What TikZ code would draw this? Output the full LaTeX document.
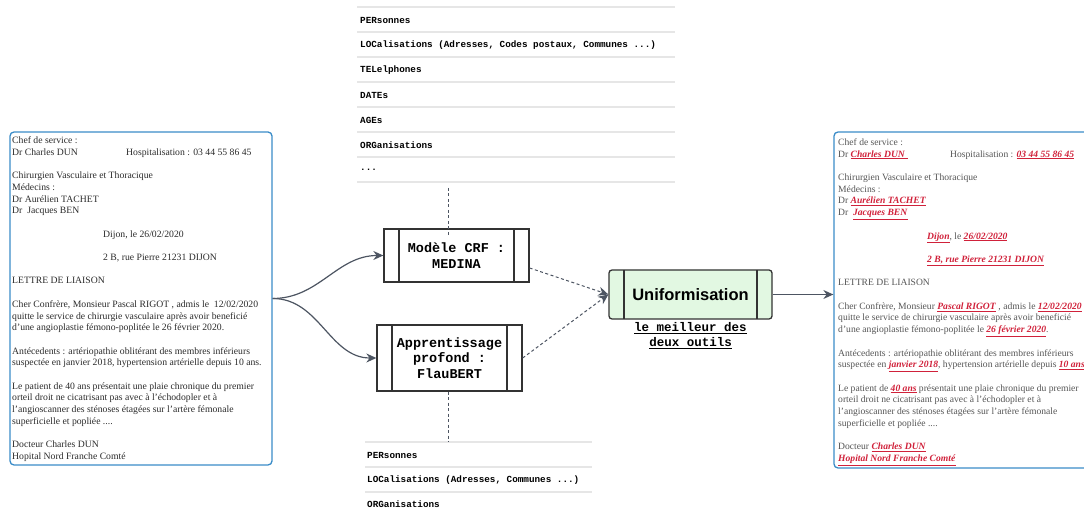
\documentclass[tikz,border=0pt]{standalone}
\usepackage{fontspec}
\setmainfont{Liberation Serif}
\setsansfont{Liberation Sans}
\setmonofont{Liberation Mono}
\usetikzlibrary{arrows.meta,positioning}

\definecolor{bordbleu}{HTML}{3A8CC8}
\definecolor{entrouge}{HTML}{D0213A}
\definecolor{gristrait}{HTML}{4D5562}
\definecolor{bordsombre}{HTML}{333333}
\definecolor{vertclair}{HTML}{E2F8E2}
\definecolor{grissep}{HTML}{E6E6E6}
\definecolor{textelettre}{HTML}{2A2A2A}
\definecolor{texteent}{HTML}{555555}

\newcommand{\ent}[1]{\textcolor{entrouge}{\underline{\textbf{\textit{#1}}}}}

\begin{document}
\begin{tikzpicture}[
		x=1pt, y=-1pt,
		lettre/.style={draw=bordbleu, line width=1.3pt, rounded corners=4pt},
		texte/.style={font=\fontsize{9.7}{11.7}\selectfont, align=left, inner sep=0pt, anchor=north west},
		entite/.style={font=\fontsize{9.3}{11}\selectfont\ttfamily\bfseries, anchor=west, inner sep=0pt},
		separateur/.style={draw=grissep, line width=1.3pt},
		outil/.style={draw=bordsombre, line width=1.3pt, fill=white, minimum width=145pt, inner sep=0pt,
			font=\fontsize{13.5}{15.5}\selectfont\ttfamily\bfseries, align=center,
			path picture={\draw[bordsombre, line width=1.3pt]
				([xshift=15pt]path picture bounding box.north west) -- ([xshift=15pt]path picture bounding box.south west)
				([xshift=-15pt]path picture bounding box.north east) -- ([xshift=-15pt]path picture bounding box.south east);}},
		fleche/.style={draw=gristrait, line width=1.2pt, -{Stealth[length=10pt,width=9pt]}},
		pointille/.style={draw=gristrait, line width=1pt, dash pattern=on 3pt off 2.5pt}
		]
		\useasboundingbox (0,0) rectangle (1084,510);

		% liste des entites (haut)
		\draw[separateur] (357,7) -- (675,7);
		\draw[separateur] (357,32) -- (675,32);
		\draw[separateur] (357,57) -- (675,57);
		\draw[separateur] (357,82) -- (675,82);
		\draw[separateur] (357,107) -- (675,107);
		\draw[separateur] (357,132) -- (675,132);
		\draw[separateur] (357,157) -- (675,157);
		\draw[separateur] (357,182) -- (675,182);
		\node[entite] (per) at (360,20) {PERsonnes};
		\node[entite] (loc) at (360,45) {LOCalisations (Adresses, Codes postaux, Communes ...)};
		\node[entite] (tel) at (360,70) {TELelphones};
		\node[entite] (dat) at (360,95) {DATEs};
		\node[entite] (age) at (360,120) {AGEs};
		\node[entite] (org) at (360,145) {ORGanisations};
		\node[entite] (etc) at (360,170) {...};
		\coordinate (listehaut) at (448,188);

		% liste des entites (bas)
		\draw[separateur] (365,442) -- (592,442);
		\draw[separateur] (365,467) -- (592,467);
		\draw[separateur] (365,492) -- (592,492);
		\node[entite] (perb) at (367,455) {PERsonnes};
		\node[entite] (locb) at (367,480) {LOCalisations (Adresses, Communes ...)};
		\node[entite] (orgb) at (367,504) {ORGanisations};
		\coordinate (listebas) at (448,442);

		% lettre d'origine
		\node[lettre, minimum width=262pt, minimum height=333pt] (lettre) at (141,298.5) {};
		\node[texte, text=textelettre] (lettretxt) at (12,136.5) {
			Chef de service :\\
			\makebox[114pt][l]{Dr Charles DUN}Hospitalisation : 03 44 55 86 45\\[11.7pt]
			Chirurgien Vasculaire et Thoracique\\
			Médecins :\\
			Dr Aurélien TACHET\\
			Dr\ \ Jacques BEN\\[11.7pt]
			\hspace*{91pt}Dijon, le 26/02/2020\\[11.7pt]
			\hspace*{91pt}2 B, rue Pierre 21231 DIJON\\[11.7pt]
			LETTRE DE LIAISON\\[11.7pt]
			Cher Confrère, Monsieur Pascal RIGOT , admis le\ \ 12/02/2020\\
			quitte le service de chirurgie vasculaire après avoir beneficié\\
			d'une angioplastie fémono-poplitée le 26 février 2020.\\[11.7pt]
			Antécedents : artériopathie oblitérant des membres inférieurs\\
			suspectée en janvier 2018, hypertension artérielle depuis 10 ans.\\[11.7pt]
			Le patient de 40 ans présentait une plaie chronique du premier\\
			orteil droit ne cicatrisant pas avec à l'échodopler et à\\
			l'angioscanner des sténoses étagées sur l'artère fémonale\\
			superficielle et popliée ....\\[11.7pt]
			Docteur Charles DUN\\
			Hopital Nord Franche Comté};

		% les deux outils
		\node[outil, minimum height=53pt] (crf) at (456.5,255.5) {Modèle CRF :\\MEDINA};
		\node[outil, minimum height=66pt] (flaubert) at (449.5,358) {Apprentissage\\profond :\\FlauBERT};
		\node[outil, fill=vertclair, rounded corners=3pt, minimum width=163pt, minimum height=49pt,
			font=\fontsize{16.5}{18}\selectfont\sffamily\bfseries] (unif) at (690.5,294.5) {Uniformisation};
		\node[below=3pt of unif, inner sep=0pt, align=center,
			font=\fontsize{12.5}{15}\selectfont\ttfamily\bfseries] (meilleur) {\underline{le meilleur des}\\\underline{deux outils}};

		% lettre annotee
		\node[lettre, minimum width=270pt, minimum height=336pt] (lettreent) at (969,300) {};
		\node[texte, text=texteent, font=\fontsize{9.6}{11.7}\selectfont] (lettreenttxt) at (838,138.5) {
			Chef de service :\\
			\makebox[112pt][l]{Dr \ent{Charles DUN\ }}Hospitalisation : \ent{03 44 55 86 45}\\[11.7pt]
			Chirurgien Vasculaire et Thoracique\\
			Médecins :\\
			Dr \ent{Aurélien TACHET}\\
			Dr\ \ \ent{Jacques BEN}\\[11.7pt]
			\hspace*{89pt}\ent{Dijon}, le \ent{26/02/2020}\\[11.7pt]
			\hspace*{89pt}\ent{2 B, rue Pierre 21231 DIJON}\\[11.7pt]
			LETTRE DE LIAISON\\[11.7pt]
			Cher Confrère, Monsieur \ent{Pascal RIGOT} , admis le \ent{12/02/2020}\\
			quitte le service de chirurgie vasculaire après avoir beneficié\\
			d'une angioplastie fémono-poplitée le \ent{26 février 2020}.\\[11.7pt]
			Antécedents : artériopathie oblitérant des membres inférieurs\\
			suspectée en \ent{janvier 2018}, hypertension artérielle depuis \ent{10 ans}.\\[11.7pt]
			Le patient de \ent{40 ans} présentait une plaie chronique du premier\\
			orteil droit ne cicatrisant pas avec à l'échodopler et à\\
			l'angioscanner des sténoses étagées sur l'artère fémonale\\
			superficielle et popliée ....\\[11.7pt]
			Docteur \ent{Charles DUN}\\
			\ent{Hopital Nord Franche Comté}};

		% connecteurs
		\draw[pointille] (listehaut) -- ([yshift=-9pt]listehaut |- crf.north);
		\draw[pointille] (flaubert.south -| listebas) -- (listebas);
		\draw[fleche] (lettre.east) to[out=0, in=180] (crf.west);
		\draw[fleche] (lettre.east) to[out=0, in=180] (flaubert.west);
		\draw[fleche, dash pattern=on 3pt off 2.5pt, line width=1pt] ([yshift=-12.5pt]crf.east) -- (unif.west);
		\draw[fleche, dash pattern=on 3pt off 2.5pt, line width=1pt] (flaubert.east) -- (unif.west);
		\draw[fleche] (unif.east) -- (lettreent.west |- unif.east);
\end{tikzpicture}
\end{document}
